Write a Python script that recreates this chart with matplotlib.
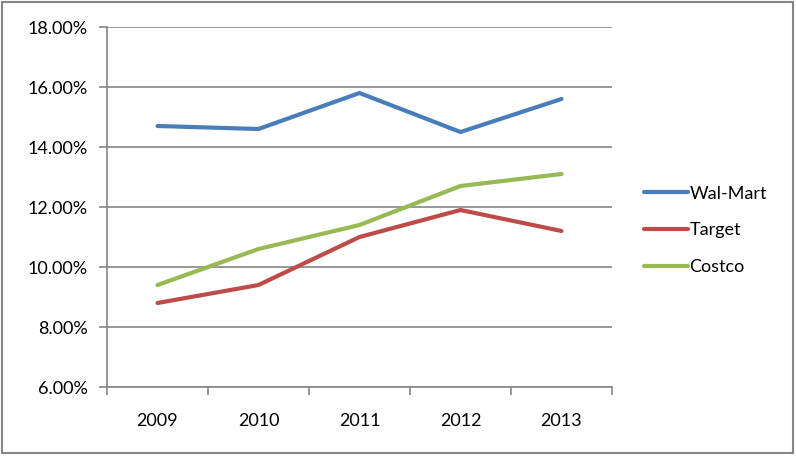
import matplotlib
matplotlib.use('Agg')
import matplotlib.pyplot as plt
from matplotlib.patches import Rectangle
from matplotlib.ticker import FuncFormatter, FixedLocator

plt.rcParams['font.family'] = ['Lato', 'DejaVu Sans']

years = ['2009', '2010', '2011', '2012', '2013']
walmart = [14.7, 14.6, 15.8, 14.5, 15.6]
target = [8.8, 9.4, 11.0, 11.9, 11.2]
costco = [9.4, 10.6, 11.4, 12.7, 13.1]

series = [('Wal-Mart', walmart, '#4A7EBB'),
          ('Target', target, '#BE4B48'),
          ('Costco', costco, '#98B954')]

grey = '#868686'

fig = plt.figure(figsize=(7.96, 4.58), dpi=100)
ax = fig.add_axes([107 / 796, 1 - 387 / 458, 505 / 796, 360 / 458])

x = range(len(years))
for name, vals, col in series:
    ax.plot(x, vals, color=col, lw=3, label=name, solid_capstyle='round')

ax.set_xlim(-0.5, len(years) - 0.5)
ax.set_ylim(6, 18)
ax.set_yticks(range(6, 19, 2))
ax.yaxis.set_major_formatter(FuncFormatter(lambda v, p: '%.2f%%' % v))
ax.grid(axis='y', color=grey, lw=1.2)
ax.set_axisbelow(True)

# category labels centred, tick marks on the boundaries
ax.xaxis.set_major_locator(FixedLocator([i - 0.5 for i in range(len(years) + 1)]))
ax.xaxis.set_major_formatter(FuncFormatter(lambda v, p: ''))
ax.xaxis.set_minor_locator(FixedLocator(list(x)))
ax.set_xticklabels(years, minor=True)
ax.tick_params(axis='x', which='minor', length=0, pad=19, labelsize=13)
ax.tick_params(axis='x', which='major', length=6, width=1.2, color=grey)
ax.tick_params(axis='y', length=6, width=1.2, color=grey, labelsize=13, pad=8)

for s in ['top', 'right']:
    ax.spines[s].set_visible(False)
for s in ['left', 'bottom']:
    ax.spines[s].set_color(grey)
    ax.spines[s].set_linewidth(1.2)

ax.legend(loc='center left', bbox_to_anchor=(1.05, 0.435), frameon=False,
          fontsize=13, handlelength=2.4, handletextpad=0.1, labelspacing=1.15,
          borderaxespad=0)

fig.patches.append(Rectangle((2 / 796, 5 / 458), 791 / 796, 451 / 458,
                             transform=fig.transFigure, fill=False,
                             edgecolor=grey, lw=1.5))

fig.savefig('out.png', dpi=100)
